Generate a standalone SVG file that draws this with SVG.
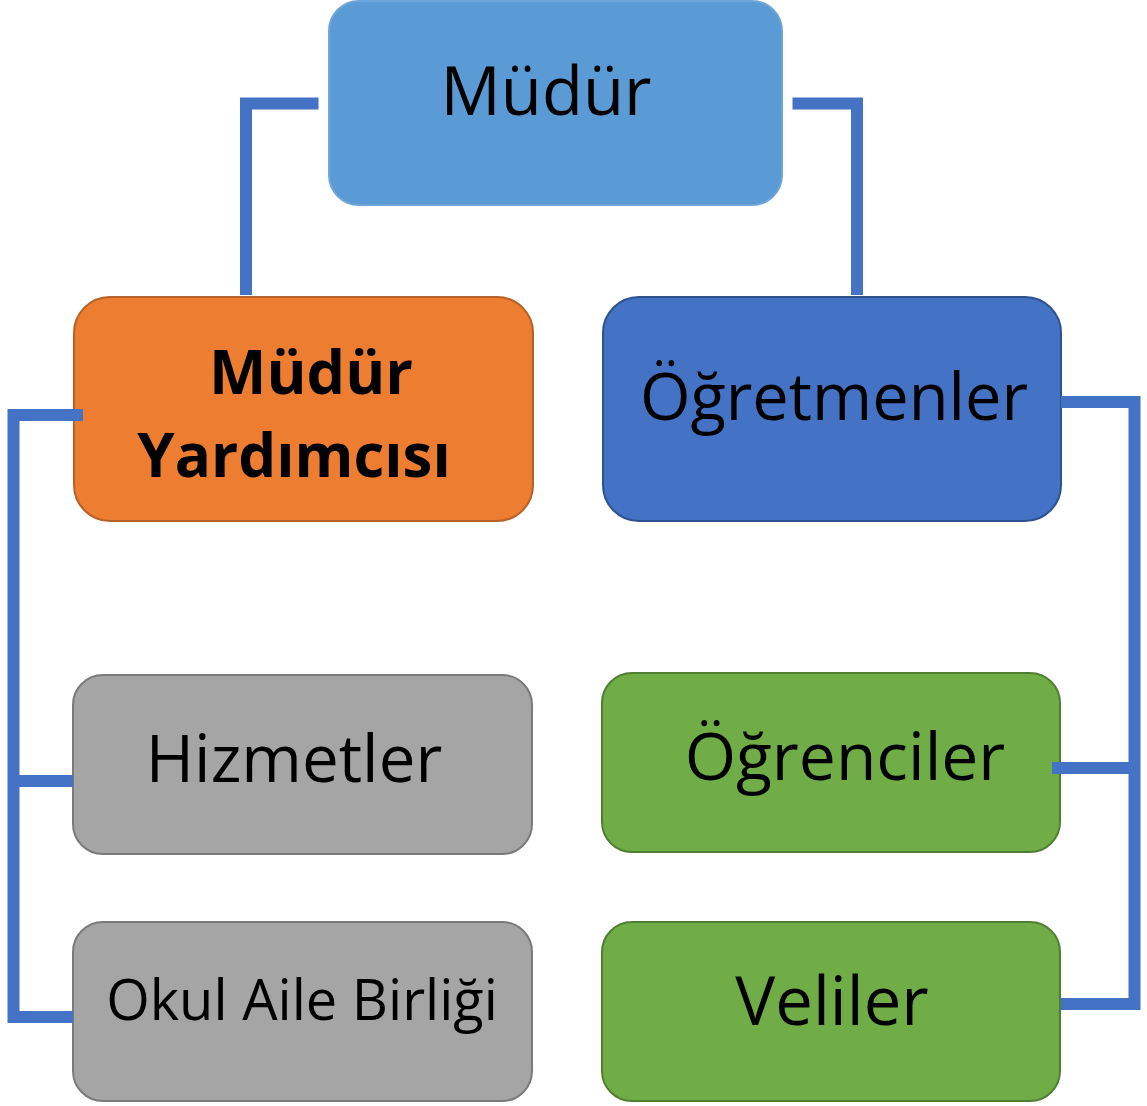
<svg xmlns="http://www.w3.org/2000/svg" width="1147" height="1106" viewBox="0 0 1147 1106">
<style>
.t{font-family:"Open Sans","Noto Sans","DejaVu Sans",sans-serif;fill:#000;text-anchor:middle}
.b{font-weight:bold}
.box{stroke-width:2}
.c{fill:none;stroke:#4472C4;stroke-width:12;stroke-linecap:butt;stroke-linejoin:miter}
</style>
<rect width="1147" height="1106" fill="#fff"/>
<g id="mudur">
<rect class="box" x="329" y="1" width="453" height="204" rx="30" fill="#5B9BD5" stroke="#6FA6DA"/>
<text class="t" x="546" y="115" font-size="67">Müdür</text>
</g>
<g id="mudur-yardimcisi">
<rect class="box" x="74" y="297" width="459" height="224" rx="36" fill="#ED7D31" stroke="#B7612A"/>
<text class="t b" x="311" y="394" font-size="61">Müdür</text>
<text class="t b" x="294" y="477" font-size="60">Yardımcısı</text>
</g>
<g id="ogretmenler">
<rect class="box" x="603" y="297" width="458" height="224" rx="36" fill="#4472C4" stroke="#2F528F"/>
<text class="t" x="834" y="420" font-size="65">Öğretmenler</text>
</g>
<g id="hizmetler">
<rect class="box" x="73" y="675" width="459" height="179" rx="30" fill="#A5A5A5" stroke="#7A7A7A"/>
<text class="t" x="294" y="782" font-size="65.5">Hizmetler</text>
</g>
<g id="ogrenciler">
<rect class="box" x="602" y="673" width="458" height="179" rx="30" fill="#70AD47" stroke="#507E32"/>
<text class="t" x="845" y="780" font-size="66">Öğrenciler</text>
</g>
<g id="okul-aile-birligi">
<rect class="box" x="73" y="922" width="459" height="179" rx="30" fill="#A5A5A5" stroke="#7A7A7A"/>
<text class="t" x="302" y="1020" font-size="56">Okul Aile Birliği</text>
</g>
<g id="veliler">
<rect class="box" x="602" y="922" width="458" height="179" rx="30" fill="#70AD47" stroke="#507E32"/>
<text class="t" x="832" y="1025" font-size="67">Veliler</text>
</g>
<g id="connectors">
<path class="c" d="M318.5 103.5 H246 V295"/>
<path class="c" d="M792.5 103.5 H857 V295"/>
<path class="c" d="M83 415 H13.5 V1017 H73"/>
<path class="c" d="M13.5 781 H73"/>
<path class="c" d="M1061 402 H1134.5 V1004 H1061"/>
<path class="c" d="M1052 768 H1134.5"/>
</g>
</svg>
